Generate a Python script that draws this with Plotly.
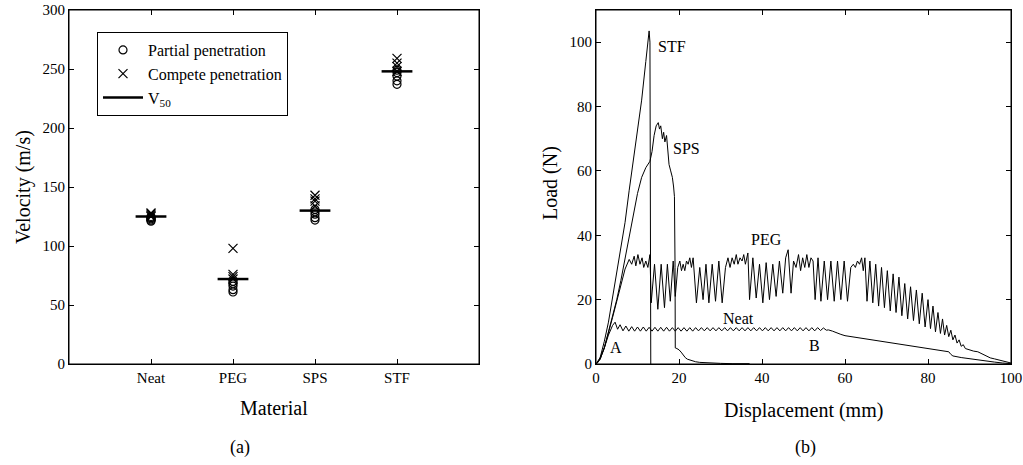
import plotly.graph_objects as go

# ---------------- (a) data ----------------
materials = ["Neat", "PEG", "SPS", "STF"]
partial_neat = [121, 122, 123, 124, 125]
partial_peg = [61, 63, 66, 68, 70]
partial_sps = [122, 124, 127, 129, 131]
partial_stf = [237, 240, 244, 247, 249]
complete_neat = [125, 126, 127, 128]
complete_peg = [72, 74, 76, 98]
complete_sps = [134, 138, 140, 143]
complete_stf = [248, 252, 255, 259]
v50 = [125, 72, 130, 248]

# ---------------- (b) data ----------------
stf_x = [0, 0.5, 1, 2, 3, 4, 5, 6, 7, 8, 9, 10, 11, 12, 12.8, 13.0, 13.2]
stf_y = [0, 0.5, 2, 7, 13, 21, 29, 36, 44, 54, 63, 72, 82, 94, 103.5, 100, 0]

sps_x = [0, 1, 2, 3, 4, 5, 6, 7, 8, 9, 10, 11, 12, 13, 13.5, 14, 14.5, 15, 15.3, 15.6,
         16, 16.3, 16.6, 17, 17.3, 17.6, 18, 18.4, 18.7, 18.9, 19.05, 19.1, 19.5, 20,
         20.5, 21, 21.5, 22, 23, 24, 25, 27, 30, 33, 37]
sps_y = [0, 1.5, 5, 10, 15, 20, 26, 33, 40, 47, 53, 58, 61, 63, 66, 71, 74, 75, 73, 74,
         70, 72, 69, 71, 66, 62, 60, 58, 55, 52, 30, 5, 4.8, 4.4,
         3.7, 2.8, 2, 1.5, 1, 0.7, 0.5, 0.3, 0.2, 0.1, 0.1]

peg_x = [0, 1, 2, 3, 4, 5, 6, 7, 8, 8.6, 9.2, 9.6, 10.1, 10.6, 11.1, 11.5, 12, 12.5, 13, 13.3,
         14.1, 14.9, 15.7, 16.5, 17.2, 17.9, 18.6, 19.1, 19.7,
         20.2, 20.6, 21, 21.4, 21.8, 22.2, 22.6, 23,
         23.4, 24.2, 25, 25.8, 26.5, 27.2, 28, 28.8, 29.6, 30.4, 31.2,
         31.8, 32.3, 32.8, 33.3, 33.8, 34.2, 34.7, 35.2, 35.6, 36, 36.6, 37,
         37.8, 38.6, 39.4, 40.2, 41, 41.8, 42.6, 43.4, 44.2, 45, 45.7, 46.3, 47,
         47.6, 48.2, 48.8, 49.3, 49.8, 50.3, 50.8, 51.3, 51.8, 52.3, 52.8,
         53.5, 54.2, 55, 55.8, 56.6, 57.4, 58.2, 59, 59.8, 60.6, 61.4,
         62, 62.5, 63, 63.5, 64, 64.4, 64.8, 65.3,
         66, 66.7, 67.4, 68.1, 68.8, 69.5, 70.2, 70.9, 71.6, 72.3, 73, 73.7, 74.4, 75.1,
         75.8, 76.5, 77.2, 77.9, 78.6, 79.3, 80, 80.6, 81.2, 81.8, 82.4, 83, 83.5, 84,
         84.5, 85, 85.5, 86, 86.5, 87, 87.5, 88, 88.5, 89, 90, 91, 92, 93, 94, 95, 96,
         97, 98, 99, 100]
peg_y = [0, 1.5, 5, 9.5, 14.5, 19.5, 25, 29.5, 32.5, 31, 33.5, 30.5, 34, 31, 33, 30, 32, 30, 34, 19,
         31, 17, 31, 17.5, 31, 19.5, 32, 21, 30,
         32, 29, 31, 29, 32, 31, 33, 30,
         33, 19, 30, 20, 31, 19, 31, 19.5, 32, 19, 30,
         33, 30, 33, 31, 34, 31, 33, 32, 34, 31, 34.5, 20,
         33, 20.5, 31, 19, 31.5, 20, 31, 21, 32, 22, 33, 35.5, 22,
         32, 30, 34, 29, 33, 30, 34, 30, 33, 32, 20,
         33, 19.5, 32, 20, 32, 19.5, 32, 20, 32, 19.5, 30,
         31, 30, 32, 31, 33, 29, 33, 19.5,
         32, 19, 31, 18, 30, 17.5, 29, 16.5, 28, 16, 27, 15, 25, 14,
         24, 13.5, 23, 12.5, 22, 11.5, 20, 11, 18, 10, 16, 9.5, 14, 9,
         12, 8.5, 10.5, 7.5, 9, 6.5, 7.5, 5.5, 6, 4.8, 4.3, 4, 3.8, 3.2, 2.5, 1.9, 1.6,
         1.3, 0.9, 0.6, 0.3]

neat_x = [0, 1, 2, 3, 4, 4.6, 5.2, 5.8, 6.5, 7.2, 7.9, 8.6, 9.3, 10, 10.7, 11.4, 12.1,
          12.8, 13.5, 14.2, 14.9, 15.6, 16.3, 17, 17.7, 18.4, 19.1, 19.8, 20.5, 21.2,
          21.9, 22.6, 23.3, 24, 24.7, 25.4, 26.1, 26.8, 27.5, 28.2, 28.9, 29.6, 30.3,
          31, 31.7, 32.4, 33.1, 33.8, 34.5, 35.2, 35.9, 36.6, 37.3, 38, 38.7, 39.4,
          40.1, 40.8, 41.5, 42.2, 42.9, 43.6, 44.3, 45, 45.7, 46.4, 47.1, 47.8, 48.5,
          49.2, 49.9, 50.6, 51.3, 52, 52.7, 53.4, 54.1, 54.8, 55.5,
          56, 57, 58, 59, 60, 62, 64, 66, 68, 70, 72, 74, 76, 78, 80, 82, 84, 85,
          85.5, 86, 88, 90, 92, 94, 96, 98, 100]
neat_y = [0, 2, 5, 9, 12, 13, 10.8, 12.2, 10.3, 11.8, 10.2, 11.6, 10.2, 11.5, 10.2, 11.5,
          10.2, 11.4, 10.2, 11.4, 10.2, 11.4, 10.2, 11.4, 10.2, 11.3, 10.2, 11.3, 10.2,
          11.3, 10.2, 11.3, 10.2, 11.3, 10.3, 11.3, 10.3, 11.3, 10.3, 11.3, 10.3, 11.3,
          10.3, 11.3, 10.3, 11.3, 10.3, 11.3, 10.3, 11.3, 10.3, 11.3, 10.3, 11.3, 10.3,
          11.3, 10.3, 11.3, 10.3, 11.3, 10.3, 11.3, 10.3, 11.3, 10.3, 11.3, 10.3, 11.3,
          10.3, 11.3, 10.3, 11.3, 10.3, 11.3, 10.3, 11.3, 10.4, 11.2, 10.5,
          10.6, 10.2, 9.6, 9.2, 8.8, 8.4, 8.0, 7.6, 7.2, 6.8, 6.3, 5.9, 5.5, 5.1, 4.8, 4.4,
          4.0, 3.8, 3.0, 2.5, 2.0, 1.6, 1.2, 0.9, 0.6, 0.3, 0.1]

curve_labels = ["STF", "SPS", "PEG", "Neat", "A", "B"]
label_x = [18.2, 21.8, 41, 34.3, 4.8, 52.6]
label_y = [98.6, 67, 38.6, 14, 5.2, 5.7]

FONT = "Liberation Serif"
W, H = 1023, 465


def px_x(xpx):
    return xpx / W


def px_y(ypx):
    return (H - ypx) / H


fig = go.Figure()

# ---- panel (a) ----
partial_all = [partial_neat, partial_peg, partial_sps, partial_stf]
complete_all = [complete_neat, complete_peg, complete_sps, complete_stf]
px_list, py_list, cx_list, cy_list = [], [], [], []
for m, p, c in zip(materials, partial_all, complete_all):
    px_list += [m] * len(p)
    py_list += p
    cx_list += [m] * len(c)
    cy_list += c

fig.add_trace(go.Scatter(
    x=px_list, y=py_list, mode="markers", name="Partial penetration",
    marker=dict(symbol="circle-open", size=8, color="black", line=dict(width=1.2)),
    xaxis="x", yaxis="y"))
fig.add_trace(go.Scatter(
    x=cx_list, y=cy_list, mode="markers", name="Compete penetration",
    marker=dict(symbol="x-thin-open", size=9, color="black", line=dict(width=1.2, color="black")),
    xaxis="x", yaxis="y"))
fig.add_trace(go.Scatter(
    x=materials, y=v50, mode="markers", showlegend=False,
    marker=dict(symbol="line-ew-open", size=22, color="black", line=dict(width=2.5, color="black")),
    xaxis="x", yaxis="y"))
fig.add_trace(go.Scatter(
    x=[None], y=[None], mode="lines", name="V<sub>50</sub>",
    line=dict(color="black", width=2.5), xaxis="x", yaxis="y"))

# ---- panel (b) ----
for xs, ys in [(stf_x, stf_y), (sps_x, sps_y), (peg_x, peg_y), (neat_x, neat_y)]:
    fig.add_trace(go.Scatter(x=xs, y=ys, mode="lines", showlegend=False,
                             line=dict(color="black", width=1), xaxis="x2", yaxis="y2"))

annotations = []
for t, x, y in zip(curve_labels, label_x, label_y):
    annotations.append(dict(text=t, x=x, y=y, xref="x2", yref="y2", showarrow=False,
                            font=dict(family=FONT, size=16, color="black")))


def paper_text(text, xpx, ypx, size, angle=0):
    return dict(text=text, x=px_x(xpx), y=px_y(ypx), xref="paper", yref="paper",
                showarrow=False, textangle=angle, xanchor="center", yanchor="middle",
                font=dict(family=FONT, size=size, color="black"))


annotations += [
    paper_text("(a)", 240, 447, 18),
    paper_text("(b)", 805, 447, 18),
    paper_text("Material", 274, 408, 20),
    paper_text("Displacement (mm)", 803, 410, 20),
    paper_text("Velocity (m/s)", 24, 187, 20, -90),
    paper_text("Load (N)", 550, 183, 20, -90),
]

# plot frames drawn around each axis domain
shapes = [
    dict(type="rect", xref="x domain", yref="y domain", x0=0, x1=1, y0=0, y1=1,
         line=dict(color="black", width=1), layer="above"),
    dict(type="rect", xref="x2 domain", yref="y2 domain", x0=0, x1=1, y0=0, y1=1,
         line=dict(color="black", width=1), layer="above"),
]

axis_common = dict(showline=True, linecolor="black", linewidth=1, mirror="ticks",
                   ticks="inside", ticklen=5, tickcolor="black", tickwidth=1,
                   showgrid=False, zeroline=False, automargin=False,
                   tickfont=dict(family=FONT, size=15, color="black"))

ydom = [px_y(364), px_y(10)]

fig.update_layout(
    width=W, height=H,
    margin=dict(l=0, r=0, t=0, b=0, pad=0, autoexpand=False),
    paper_bgcolor="white", plot_bgcolor="white",
    font=dict(family=FONT, color="black"),
    xaxis=dict(domain=[px_x(69), px_x(479)], type="category",
               categoryorder="array", categoryarray=materials, range=[-1, 4],
               anchor="y", **axis_common),
    yaxis=dict(domain=ydom, range=[0, 300], dtick=50, anchor="x", **axis_common),
    xaxis2=dict(domain=[px_x(596), px_x(1011)], range=[0, 100], dtick=20,
                anchor="y2", **axis_common),
    yaxis2=dict(domain=ydom, range=[0, 110], tickvals=[0, 20, 40, 60, 80, 100],
                anchor="x2", **axis_common),
    legend=dict(x=px_x(97), y=px_y(32), xanchor="left", yanchor="top",
                bordercolor="black", borderwidth=1, bgcolor="white",
                font=dict(family=FONT, size=16, color="black"),
                tracegroupgap=0, itemwidth=40),
    annotations=annotations,
    shapes=shapes,
    showlegend=True,
    hovermode=False,
)

fig.write_html("out.html", config={"displayModeBar": False},
               post_script="document.body.style.margin='0px';window.scrollTo(0,0);")
